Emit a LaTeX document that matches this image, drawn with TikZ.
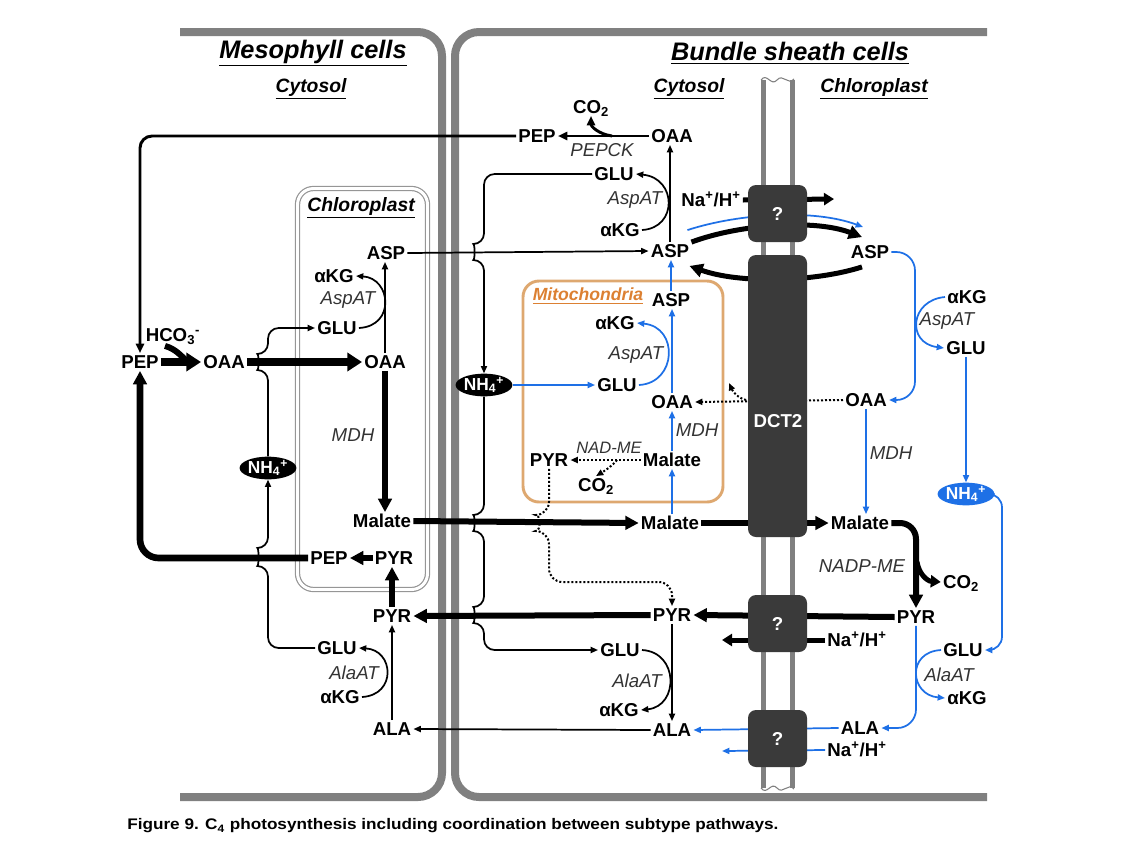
\documentclass[tikz,border=0pt]{standalone}
\usepackage{fontspec}
\setmainfont{Liberation Sans}
\usetikzlibrary{arrows.meta,shapes.geometric,calc}
\definecolor{myblue}{RGB}{30,112,230}
\definecolor{wallgray}{RGB}{128,128,128}
\definecolor{boxgray}{RGB}{58,58,58}
\definecolor{mitoline}{RGB}{222,168,112}
\definecolor{mitotext}{RGB}{220,128,50}
\definecolor{envgray}{RGB}{150,150,150}
\tikzset{
  tipS/.tip={Triangle[length=5.5pt,width=4.5pt]},
  tipM/.tip={Triangle[length=7pt,width=6pt]},
  tipN/.tip={Triangle[length=7.5pt,width=9pt]},
  tipL/.tip={Triangle[length=10pt,width=10pt]},
  tipXL/.tip={Triangle[length=11pt,width=13.5pt]},
  lbl/.style={font=\bfseries\fontsize{14}{16}\selectfont, inner sep=1.5pt, text height=10pt, text depth=0pt},
  enz/.style={font=\itshape\fontsize{14}{16}\selectfont, text=black!80, inner sep=1pt},
  ttl/.style={font=\bfseries\itshape\fontsize{19}{22}\selectfont},
  subttl/.style={font=\bfseries\itshape\fontsize{14.5}{17}\selectfont},
  wall/.style={draw=wallgray, line width=6pt},
  env/.style={draw=wallgray, line width=3.75pt},
  thinln/.style={line width=1.3pt},
  medln/.style={line width=2.2pt},
  thickln/.style={line width=4.5pt},
  vthickln/.style={line width=6pt},
  dotln/.style={line width=1.5pt, dash pattern=on 1.5pt off 1.5pt},
  nhbox/.style={ellipse, text=white, minimum width=36pt, minimum height=17pt, inner sep=0pt, font=\bfseries\fontsize{13}{14}\selectfont},
  tbox/.style={fill=boxgray, rounded corners=6pt, minimum width=44.25pt, inner sep=0pt, text=white, font=\bfseries\fontsize{14}{16}\selectfont}
}
\begin{document}
\begin{tikzpicture}[x=0.75pt,y=-0.75pt]
\useasboundingbox (0,0) rectangle (1132,847);

% cell walls
\draw[wall, rounded corners=18pt] (180,32) -- (442,32) -- (442,797) -- (180,797);
\draw[wall, rounded corners=18pt] (987,32) -- (455,32) -- (455,797) -- (987,797);

% titles
\node[ttl] (tmes) at (313,53) {\underline{Mesophyll cells}};
\node[ttl] (tbs) at (790,53) {\underline{Bundle sheath cells}};
\node[subttl] (tcyt1) at (311,89) {\underline{Cytosol}};
\node[subttl] (tcyt2) at (689,89) {\underline{Cytosol}};
\node[subttl] (tchl2) at (874,89) {\underline{Chloroplast}};

% mesophyll chloroplast
\draw[draw=envgray, line width=0.9pt, double=white, double distance=2.2pt, rounded corners=12pt] (297.5,188.5) rectangle (427.5,589.5);
\node[subttl] (tchl1) at (361,208) {\underline{Chloroplast}};

% mitochondria
\draw[draw=mitoline, line width=2.2pt, rounded corners=12pt] (523,281) rectangle (723,502);
\node[font=\bfseries\itshape\fontsize{13.2}{15}\selectfont, text=mitotext] (tmito) at (588,296) {\underline{Mitochondria}};

% bundle sheath chloroplast envelope
\draw[env] (763,80) -- (763,788);
\draw[env] (792,80) -- (792,788);
\draw[wallgray, line width=0.8pt] (761,80) .. controls (767,72) and (771,87) .. (777,80) .. controls (783,73) and (788,86) .. (794,79);
\draw[wallgray, line width=0.8pt] (761,788) .. controls (767,796) and (771,781) .. (777,788) .. controls (783,795) and (788,782) .. (794,789);

% ---------- labels: mesophyll ----------
\node[lbl] (pepM) at (140,362) {PEP};
\node[lbl] (hco) at (173,335) {HCO\textsubscript{3}\textsuperscript{-}};
\node[lbl] (oaaM) at (224,362) {OAA};
\node[lbl] (oaaMC) at (385,362) {OAA};
\node[lbl] (aspMC) at (386,253) {ASP};
\node[lbl] (akgMC) at (334,276) {αKG};
\node[enz] (aspatMC) at (348,300) {AspAT};
\node[lbl] (gluMC) at (337,328) {GLU};
\node[enz] (mdhM) at (353,435) {MDH};
\node[nhbox, fill=black] (nh4M) at (268,468) {NH\textsubscript{4}\textsuperscript{+}};
\node[lbl] (malMC) at (382,521) {Malate};
\node[lbl] (pepMC) at (329,558) {PEP};
\node[lbl] (pyrMC) at (394,558) {PYR};
\node[lbl] (pyrM) at (392,616) {PYR};
\node[lbl] (gluM) at (337,648) {GLU};
\node[enz] (alaatM) at (354,673) {AlaAT};
\node[lbl] (akgM) at (340,697) {αKG};
\node[lbl] (alaM) at (392,729) {ALA};

% ---------- labels: bundle sheath cytosol ----------
\node[lbl] (pepB) at (537,136) {PEP};
\node[lbl] (co2B) at (591,107) {CO\textsubscript{2}};
\node[lbl] (oaaB) at (672,136) {OAA};
\node[enz] (pepck) at (602,150) {PEPCK};
\node[lbl] (gluB) at (614,174) {GLU};
\node[enz] (aspatB) at (635,200) {AspAT};
\node[lbl] (naB1) at (711,200) {Na\textsuperscript{+}/H\textsuperscript{+}};
\node[lbl] (akgB) at (620,230) {αKG};
\node[lbl] (aspB) at (670,251) {ASP};
\node[nhbox, fill=black] (nh4B) at (484,385) {NH\textsubscript{4}\textsuperscript{+}};
\node[lbl] (malB) at (670,523) {Malate};
\node[lbl] (pyrB) at (672,615) {PYR};
\node[lbl] (gluB2) at (620,650) {GLU};
\node[enz] (alaatB) at (637,681) {AlaAT};
\node[lbl] (akgB2) at (619,710) {αKG};
\node[lbl] (alaB) at (672,730) {ALA};

% ---------- labels: mitochondria ----------
\node[lbl] (aspX) at (671,300) {ASP};
\node[lbl] (akgX) at (615,323) {αKG};
\node[enz] (aspatX) at (636,355) {AspAT};
\node[lbl] (gluX) at (617,385) {GLU};
\node[lbl] (oaaX) at (672,402) {OAA};
\node[enz] (mdhX) at (697,430) {MDH};
\node[enz, font=\itshape\fontsize{12.4}{14}\selectfont] (nadme) at (609,448) {NAD-ME};
\node[lbl] (pyrX) at (549,460) {PYR};
\node[lbl] (malX) at (672,460) {Malate};
\node[lbl] (co2X) at (596,485) {CO\textsubscript{2}};

% ---------- labels: bundle sheath chloroplast ----------
\node[lbl] (aspC) at (870,252) {ASP};
\node[lbl] (akgC) at (967,297) {αKG};
\node[enz] (aspatC) at (947,321) {AspAT};
\node[lbl] (gluC) at (966,348) {GLU};
\node[lbl] (oaaC) at (866,400) {OAA};
\node[enz] (mdhC) at (891,453) {MDH};
\node[nhbox, fill=myblue] (nh4C) at (966,494) {NH\textsubscript{4}\textsuperscript{+}};
\node[lbl] (malC) at (860,523) {Malate};
\node[enz] (nadpme) at (862,566) {NADP-ME};
\node[lbl] (co2C) at (961,582) {CO\textsubscript{2}};
\node[lbl] (pyrC) at (916,617) {PYR};
\node[lbl] (naC2) at (857,640) {Na\textsuperscript{+}/H\textsuperscript{+}};
\node[lbl] (gluC2) at (963,650) {GLU};
\node[enz] (alaatC) at (949,675) {AlaAT};
\node[lbl] (akgC2) at (967,698) {αKG};
\node[lbl] (alaC) at (860,728) {ALA};
\node[lbl] (naC3) at (857,750) {Na\textsuperscript{+}/H\textsuperscript{+}};

% free ends
\coordinate (pepckj) at (612,136);
\coordinate (hcoj) at (188,362);
\coordinate (nadj) at (617,460);
\coordinate (nadpj) at (917,562);
\coordinate (oaabr) at (746,400);
\coordinate (oaabrend) at (729,383);
\coordinate (naB1end) at (834,199);
\coordinate (naC2end) at (722,640);
\coordinate (naC3end) at (722,751);

% ---------- connectors: mesophyll ----------
\draw[medln, -{tipM}, rounded corners=9pt] (pepB.west) -- (pepB.west -| pepM.north) -- (pepM.north);
\draw[vthickln, -{tipXL}] (pepM.east) -- (oaaM.west);
\draw[line width=4.5pt] ($(hco.south)+(-8,2)$) .. controls (176,349) and (181,356) .. (hcoj);
\draw[vthickln, -{tipXL}] (oaaM.east) -- (oaaMC.west);
\draw[thinln, -{tipS}] (oaaMC.north) -- (oaaMC.north |- aspMC.south);
\draw[thinln, -{tipS}] (gluMC.east) .. controls +(37,-2) and +(35,2) .. (akgMC.east);
\draw[thickln, -{tipL}] (oaaMC.south) -- (oaaMC.south |- malMC.north);
\draw[thinln, -{tipS}, rounded corners=8pt] (nh4M.north) -- (268,370) .. controls (259,370) and (259,354) .. (268,354) -- (gluMC.west -| nh4M.north) -- (gluMC.west);
\draw[thinln, -{tipS}, rounded corners=8pt] (gluM.west) -- (gluM.west -| nh4M.south) -- (268,566) .. controls (259,566) and (259,548) .. (268,548) -- (nh4M.south);
\draw[thinln, -{tipS}] (aspMC.east) -- (aspB.west);
\draw[thickln, -{tipL}] (malMC.east) -- (malB.west);
\draw[line width=4pt, -{tipL}] (pyrMC.west) -- (pepMC.east);
\draw[line width=5pt, -{tipL}, rounded corners=14pt] (pepMC.west) -- (pepMC.west -| pepM.south) -- (pepM.south);
\draw[line width=4pt, -{tipL}] (pyrM.north) -- (pyrM.north |- pyrMC.south);
\draw[thickln, -{tipL}] (pyrB.west) -- (pyrM.east);
\draw[thinln, -{tipS}] (alaM.north) -- (alaM.north |- pyrM.south);
\draw[thinln, -{tipS}] (akgM.east) .. controls +(35,-2) and +(35,2) .. (gluM.east);
\draw[thinln, -{tipS}] (alaB.west) -- (alaM.east);

% ---------- connectors: bundle sheath cytosol ----------
\draw[medln, -{tipM}] (oaaB.west) -- (pepB.east);
\draw[medln, -{tipM}] (pepckj) .. controls (598,134) and (591,126) .. (co2B.south);
\draw[thinln, -{tipS}] (aspB.north) -- (aspB.north |- oaaB.south);
\draw[thinln, -{tipS}] (akgB.east) .. controls +(36,-2) and +(41,4) .. (gluB.east);
\draw[thinln, -{tipS}, rounded corners=8pt] (gluB.west) -- (gluB.west -| nh4B.north) -- (484,244) .. controls (475,244) and (475,260) .. (484,260) -- (nh4B.north);
\draw[thinln, -{tipS}, rounded corners=8pt] (nh4B.south) -- (484,515) .. controls (475,515) and (475,531) .. (484,531) -- (484,607) .. controls (475,607) and (475,623) .. (484,623) -- (gluB2.west -| nh4B.south) -- (gluB2.west);
\draw[thinln, myblue, -{tipS}] (nh4B.east) -- (gluX.west);
\draw[thinln, -{tipS}] (pyrB.south) -- (pyrB.south |- alaB.north);
\draw[thinln, -{tipS}] (gluB2.east) .. controls +(37,2) and +(38,-4) .. (akgB2.east);

% ---------- connectors: mitochondria ----------
\draw[thinln, myblue, -{tipS}] (malX.south |- malB.north) -- (malX.south);
\draw[thinln, myblue, -{tipS}] (malX.north) -- (malX.north |- oaaX.south);
\draw[thinln, myblue, -{tipS}] (oaaX.north) -- (oaaX.north |- aspX.south);
\draw[thinln, myblue, -{tipS}] (aspX.north) -- (aspX.north |- aspB.south);
\draw[thinln, myblue, -{tipS}] (gluX.east) .. controls +(38,-2) and +(42,4) .. (akgX.east);
\draw[dotln, -{tipS}] (malX.west) -- (pyrX.east);
\draw[dotln, -{tipS}] (nadj) .. controls (612,466) and (606,470) .. (co2X.north);
\draw[dotln, -{tipS}, rounded corners=10pt] (pyrX.south) -- (549,515) .. controls (541,515) and (541,531) .. (549,531) -- (549,582) -- (672,582) -- (pyrB.north);
\draw[dotln, -{tipS}] (oaaC.west) -- (oaaX.east);
\draw[dotln, -{tipS}] (oaabr) .. controls (738,398) and (733,392) .. (oaabrend);

% ---------- transport through the envelope ----------
\draw[line width=3.75pt, -{tipL}] (aspB.north east) .. controls (740,224) and (815,219) .. ($(aspC.north)+(-8,-6)$);
\draw[thinln, myblue, -{tipS}] ($(aspB.north east)+(-4,-12)$) .. controls (740,213) and (815,209) .. ($(aspC.north)+(-7,-16)$);
\draw[line width=3.75pt, -{tipL}] ($(aspC.south)+(-8,6)$) .. controls (815,282) and (740,284) .. ($(aspB.south east)+(-2,6)$);
\draw[line width=3.75pt, -{tipN}] (naB1.east) -- (naB1end);
\draw[thickln, -{tipL}] (malB.east) -- (malC.west);
\draw[thickln, -{tipL}] (pyrC.west) -- (pyrB.east);
\draw[line width=3.75pt, -{tipN}] (naC2.west) -- (naC2end);
\draw[thinln, myblue, -{tipS}] (alaC.west) -- (alaB.east);
\draw[thinln, myblue, -{tipS}] (naC3.west) -- (naC3end);

% ---------- connectors: bundle sheath chloroplast ----------
\draw[thinln, myblue, -{tipS}, rounded corners=14pt] (aspC.east) -- (915,252) -- (915,400) -- (oaaC.east);
\draw[thinln, myblue, -{tipS}] (akgC.west) .. controls +(-35,3) and +(-38,-5) .. (gluC.west);
\draw[thinln, myblue, -{tipS}] (gluC.south) -- (gluC.south |- nh4C.north);
\draw[thinln, myblue, -{tipS}] (oaaC.south) -- (oaaC.south |- malC.north);
\draw[thinln, myblue, -{tipS}, rounded corners=10pt] (nh4C.east) -- (1002,494) -- (1002,650) -- (gluC2.east);
\draw[thickln, -{tipL}, rounded corners=12pt] (malC.east) -- (malC.east -| pyrC.north) -- (pyrC.north);
\draw[line width=3.75pt, -{tipN}] (nadpj) .. controls (919,574) and (927,581) .. (co2C.west);
\draw[thinln, myblue, -{tipS}, rounded corners=14pt] (pyrC.south) -- (pyrC.south |- alaC.east) -- (alaC.east);
\draw[thinln, myblue, -{tipS}] (gluC2.west) .. controls +(-35,2) and +(-35,-3) .. (akgC2.west);

% ---------- transporters ----------
\node[tbox, minimum height=42.75pt] (t1) at (777.5,213.5) {?};
\node[tbox, minimum height=211.5pt] (dct) at (777.5,396) {};
\node[font=\bfseries\fontsize{14}{16}\selectfont, text=white] (dctl) at (778,421) {DCT2};
\node[tbox, minimum height=42.75pt] (t2) at (777.5,623.5) {?};
\node[tbox, minimum height=42.75pt] (t3) at (777.5,738.5) {?};

% caption
\node[anchor=west, font=\bfseries\fontsize{11.5}{13}\selectfont, inner sep=0pt] (cap) at (127,826) {\scalebox{1.12}[1]{Figure 9. C\textsubscript{4} photosynthesis including coordination between subtype pathways.}};
\end{tikzpicture}
\end{document}
